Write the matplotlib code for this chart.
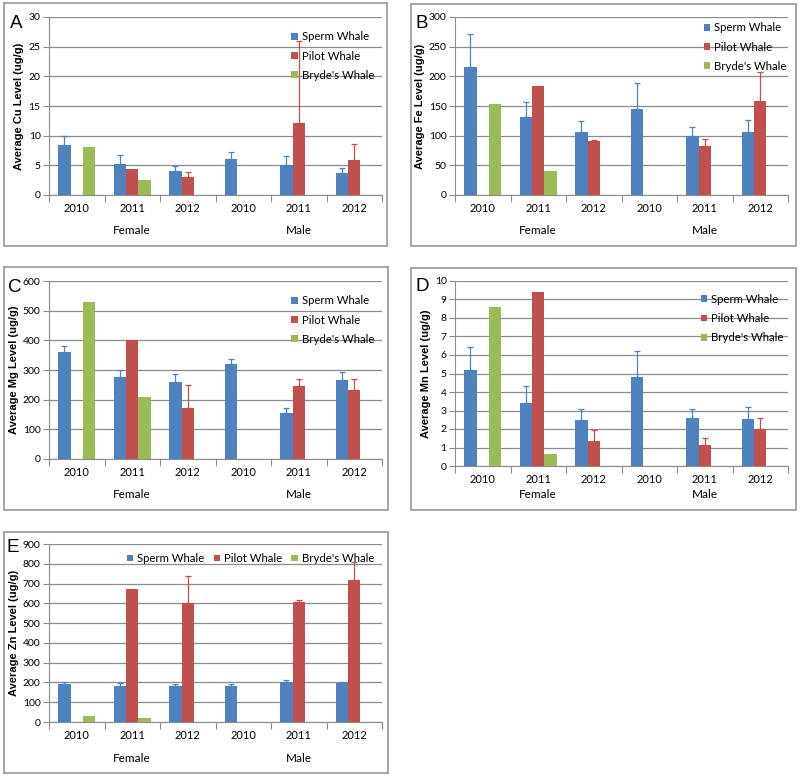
import numpy as np
import matplotlib
matplotlib.use("Agg")
import matplotlib.pyplot as plt
from matplotlib.patches import Rectangle, Patch

plt.rcParams['font.family'] = ['Lato', 'DejaVu Sans']

years = ["2010", "2011", "2012", "2010", "2011", "2012"]
sexes = ["Female", "Male"]
species = ["Sperm Whale", "Pilot Whale", "Bryde's Whale"]
colors = ["#4F81BD", "#C0504D", "#9BBB59"]
nan = np.nan

# Cu
cu_sperm = [8.5, 5.2, 4.1, 6.1, 5.1, 3.7]
cu_sperm_err = [1.4, 1.5, 0.8, 1.2, 1.4, 0.8]
cu_pilot = [nan, 4.4, 3.1, nan, 12.1, 5.9]
cu_pilot_err = [0, 0, 0.8, 0, 13.9, 2.7]
cu_bryde = [8.1, 2.6, nan, nan, nan, nan]

# Fe
fe_sperm = [216, 132, 107, 145, 100, 106]
fe_sperm_err = [55, 24, 17, 44, 15, 21]
fe_pilot = [nan, 183, 91, nan, 82, 158]
fe_pilot_err = [0, 0, 2, 0, 12, 49]
fe_bryde = [153, 40, nan, nan, nan, nan]

# Mg
mg_sperm = [362, 278, 260, 320, 155, 265]
mg_sperm_err = [20, 22, 25, 18, 17, 27]
mg_pilot = [nan, 400, 172, nan, 246, 232]
mg_pilot_err = [0, 0, 76, 0, 22, 38]
mg_bryde = [530, 208, nan, nan, nan, nan]

# Mn
mn_sperm = [5.2, 3.4, 2.5, 4.8, 2.6, 2.55]
mn_sperm_err = [1.25, 0.9, 0.6, 1.4, 0.5, 0.65]
mn_pilot = [nan, 9.4, 1.35, nan, 1.15, 2.0]
mn_pilot_err = [0, 0, 0.6, 0, 0.35, 0.6]
mn_bryde = [8.6, 0.65, nan, nan, nan, nan]

# Zn
zn_sperm = [190, 182, 183, 180, 200, 198]
zn_sperm_err = [10, 13, 7, 10, 12, 4]
zn_pilot = [nan, 675, 600, nan, 605, 718]
zn_pilot_err = [0, 0, 140, 0, 10, 92]
zn_bryde = [28, 18, nan, nan, nan, nan]

W, H = 800, 776
fig = plt.figure(figsize=(W / 100, H / 100), dpi=100)


def px(l, t, r, b):
    return [l / W, 1 - b / H, (r - l) / W, (b - t) / H]


def panel(box, axrect, letter, letter_xy, sperm, sperm_err, pilot, pilot_err, bryde,
          ymax, ystep, ylabel, sex_off, legend_kw):
    fig.patches.append(Rectangle((box[0] / W, 1 - box[3] / H), (box[2] - box[0]) / W,
                                 (box[3] - box[1]) / H, transform=fig.transFigure,
                                 fill=False, edgecolor="#a6a6a6", linewidth=1.4))
    fig.text(letter_xy[0] / W, 1 - letter_xy[1] / H, letter, fontsize=13.5,
             va="baseline", ha="left", family="Liberation Sans")
    ax = fig.add_axes(px(*axrect))
    x = np.arange(6) + 0.5
    w = 2 / 9
    vals = [sperm, pilot, bryde]
    errs = [sperm_err, pilot_err, None]
    for i in range(3):
        xs = x + (i - 1) * w
        ax.bar(xs, vals[i], width=w, color=colors[i], zorder=3, label=species[i])
        if errs[i] is not None:
            v = np.array(vals[i], dtype=float)
            e = np.array(errs[i], dtype=float)
            m = ~np.isnan(v) & (e > 0)
            ax.errorbar(xs[m], v[m], yerr=[np.zeros(m.sum()), e[m]], fmt="none",
                        ecolor=colors[i], elinewidth=0.9, capsize=2.5, capthick=0.9,
                        zorder=4)
    ax.set_xlim(0, 6)
    ax.set_ylim(0, ymax)
    ax.set_yticks(np.arange(0, ymax + ystep / 2, ystep))
    ax.yaxis.grid(True, color="#8c8c8c", linewidth=0.9, zorder=0)
    ax.set_axisbelow(True)
    ax.set_xticks(np.arange(7))
    ax.set_xticklabels([])
    ax.set_xticks(x, minor=True)
    ax.set_xticklabels(years, minor=True, fontsize=8)
    ax.tick_params(axis="x", which="major", length=5, color="#8c8c8c", direction="out")
    ax.tick_params(axis="x", which="minor", length=0, pad=6)
    ax.tick_params(axis="y", length=4, color="#8c8c8c", labelsize=7.5, pad=2)
    for s in ["top", "right"]:
        ax.spines[s].set_visible(False)
    for s in ["left", "bottom"]:
        ax.spines[s].set_color("#8c8c8c")
    ax.set_ylabel(ylabel, fontsize=8, fontweight="bold", labelpad=3,
                  family="Liberation Sans")
    handles = [Patch(facecolor=c) for c in colors]
    ax.legend(handles, species, frameon=False, fontsize=8.2, handlelength=0.55,
              handleheight=0.55, handletextpad=0.35, borderaxespad=0, **legend_kw)
    for k, s in enumerate(sexes):
        ax.annotate(s, xy=(1.5 + 3 * k, 0), xycoords="data", xytext=(0, -sex_off),
                    textcoords="offset pixels", ha="center", va="center", fontsize=8.5)
    return ax


leg_v = dict(loc="upper right", labelspacing=0.72)

a = panel((4, 3, 387, 246), (49, 17, 382, 195), "A", (10, 28),
          cu_sperm, cu_sperm_err, cu_pilot, cu_pilot_err, cu_bryde,
          30, 5, "Average Cu Level (ug/g)", 36,
          dict(bbox_to_anchor=(0.99, 0.945), **leg_v))
b = panel((411, 4, 796, 246), (455, 17, 788, 195), "B", (415, 28),
          fe_sperm, fe_sperm_err, fe_pilot, fe_pilot_err, fe_bryde,
          300, 50, "Average Fe Level (ug/g)", 35,
          dict(bbox_to_anchor=(1.01, 0.995), **leg_v))
c = panel((4, 267, 388, 510), (49, 281, 382, 459), "C", (8, 292),
          mg_sperm, mg_sperm_err, mg_pilot, mg_pilot_err, mg_bryde,
          600, 100, "Average Mg Level (ug/g)", 35,
          dict(bbox_to_anchor=(0.99, 0.945), **leg_v))
d = panel((411, 268, 796, 510), (455, 281, 788, 466), "D", (415, 291),
          mn_sperm, mn_sperm_err, mn_pilot, mn_pilot_err, mn_bryde,
          10, 1, "Average Mn Level (ug/g)", 28,
          dict(bbox_to_anchor=(1.0, 0.955), **leg_v))
e = panel((4, 532, 388, 773), (49, 544, 382, 722), "E", (7, 552),
          zn_sperm, zn_sperm_err, zn_pilot, zn_pilot_err, zn_bryde,
          900, 100, "Average Zn Level (ug/g)", 36,
          dict(loc="upper right", ncol=3, columnspacing=0.8,
               bbox_to_anchor=(0.99, 0.975)))

fig.savefig("out.png", dpi=100)
